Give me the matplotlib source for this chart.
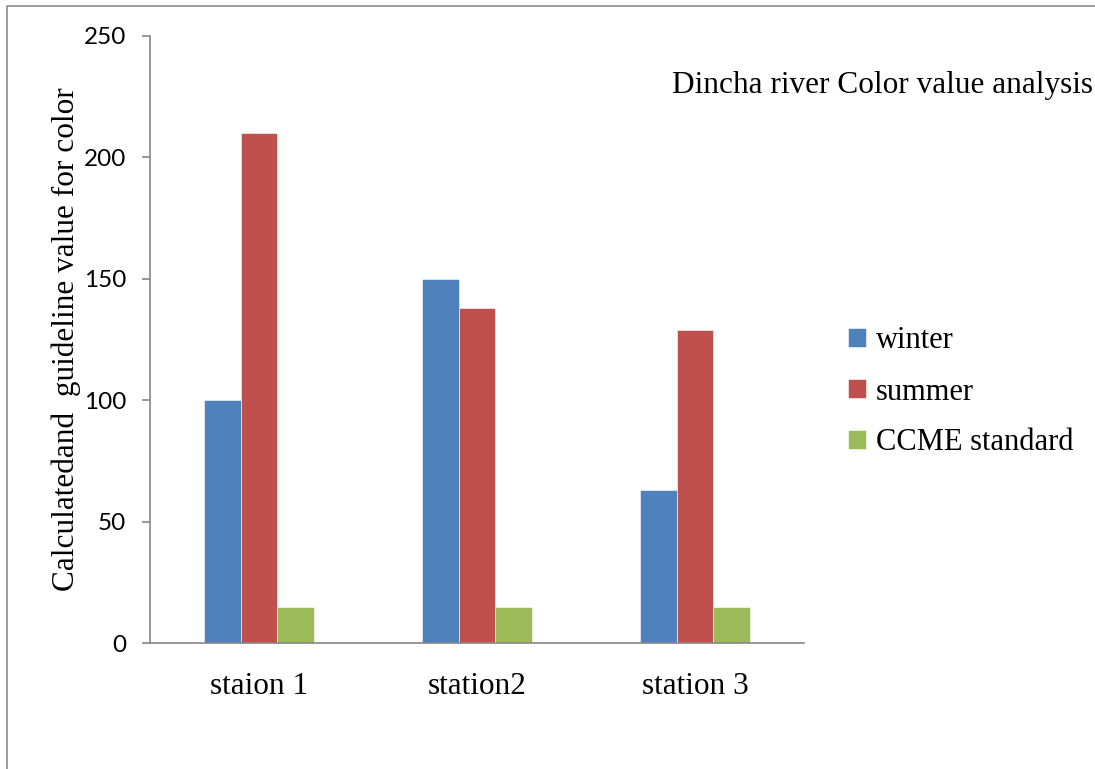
import numpy as np
import matplotlib
matplotlib.use("Agg")
import matplotlib.pyplot as plt
from matplotlib.patches import Rectangle

# data
stations = ["staion 1", "station2", "station 3"]
series = ["winter", "summer", "CCME standard"]
winter = [100, 150, 63]
summer = [210, 138, 129]
ccme = [15, 15, 15]
colors = ["#4f81bd", "#c0504d", "#9bbb59"]
yticks = [0, 50, 100, 150, 200, 250]

W, H = 1095, 769
SERIF = "Liberation Serif"
fig = plt.figure(figsize=(W / 100, H / 100), dpi=100)

# outer frame (partly cut off at right/bottom, like the source)
fig.patches.append(Rectangle((7 / W, -0.1), 1.2, (769 - 6) / H + 0.1, transform=fig.transFigure,
                             fill=False, ec="#8c8c8c", lw=1.2))

ax = fig.add_axes([150 / W, (H - 643) / H, 654 / W, 607 / H])
x = np.arange(len(stations))
bw = 0.167
for i, (vals, name) in enumerate(zip([winter, summer, ccme], series)):
    ax.bar(x + (i - 1) * bw, vals, bw, color=colors[i], label=name,
           edgecolor="white", linewidth=0.4)

ax.set_xlim(-0.5, len(stations) - 0.5)
ax.set_ylim(0, 250)
ax.set_yticks(yticks)
ax.set_yticklabels([str(t) for t in yticks], family="Lato", fontsize=17.5)
ax.set_xticks(x)
ax.set_xticklabels(stations, family=SERIF, fontsize=22.5)
ax.tick_params(axis="x", length=0, pad=21)
ax.tick_params(axis="y", length=6, color="#868686", width=1.2, pad=11)
for s in ["top", "right"]:
    ax.spines[s].set_visible(False)
for s in ["left", "bottom"]:
    ax.spines[s].set_color("#868686")
    ax.spines[s].set_linewidth(1.2)

ax.set_ylabel("Calculatedand  guideline value for color", family=SERIF,
              fontsize=22.5, labelpad=2)

fig.text(1093 / W, 1 - 85 / H, "Dincha river Color value analysis", ha="right", va="center",
         family=SERIF, fontsize=22.5)

ax.legend(loc="center left", bbox_to_anchor=(848 / W, 1 - 392 / H), bbox_transform=fig.transFigure,
          frameon=False, prop={"family": SERIF, "size": 22},
          handlelength=0.6, handleheight=0.6, handletextpad=0.3, labelspacing=0.72,
          borderpad=0, borderaxespad=0)

fig.savefig("out.png", dpi=100)
